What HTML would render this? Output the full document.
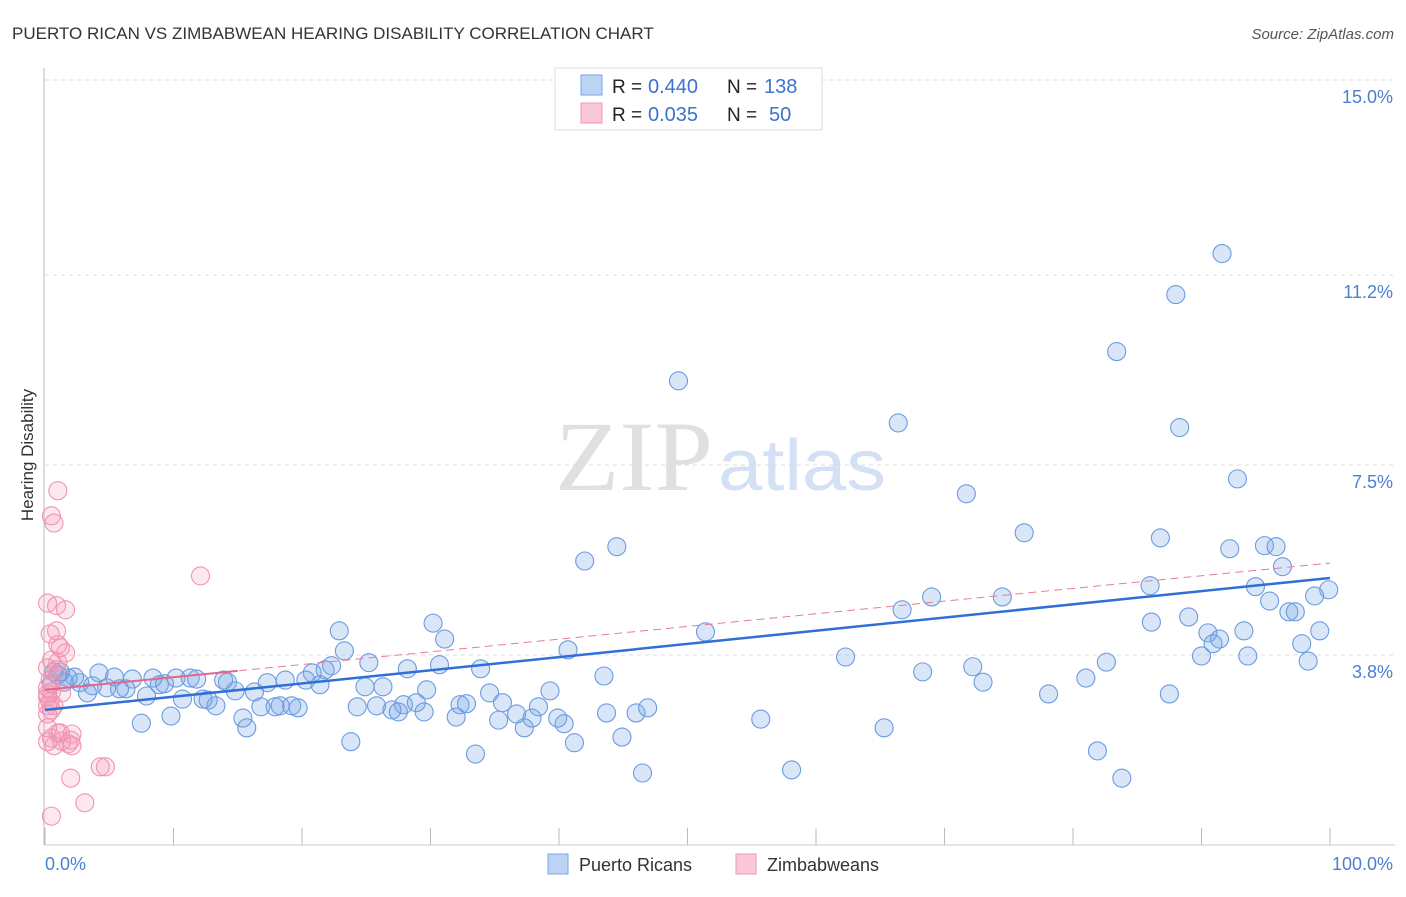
<!DOCTYPE html>
<html><head><meta charset="utf-8"><style>
body{margin:0;background:#fff;font-family:"Liberation Sans",sans-serif}
</style></head><body>
<svg width="1406" height="892" xmlns="http://www.w3.org/2000/svg">
<text x="12" y="39" font-size="17" fill="#333">PUERTO RICAN VS ZIMBABWEAN HEARING DISABILITY CORRELATION CHART</text>
<text x="1394" y="39" font-size="15" fill="#555" font-style="italic" text-anchor="end">Source: ZipAtlas.com</text>
<g>
<text x="555" y="490" font-size="100" font-family="Liberation Serif,serif" fill="#e0e0e0" textLength="158" lengthAdjust="spacingAndGlyphs">ZIP</text>
<text x="718" y="490" font-size="72" fill="#d4e0f3" textLength="168" lengthAdjust="spacingAndGlyphs">atlas</text>
</g>
<g id="grid"></g>
<line x1="44" y1="68" x2="44" y2="845" stroke="#bbb"/>
<line x1="44" y1="845" x2="1395" y2="845" stroke="#ccc"/>
<text x="33" y="455" font-size="17" fill="#333" transform="rotate(-90 33 455)" text-anchor="middle">Hearing Disability</text>
<text x="45" y="870" font-size="18" fill="#4a7fd4">0.0%</text>
<text x="1393" y="870" font-size="18" fill="#4a7fd4" text-anchor="end">100.0%</text>
<g id="pts"></g>
<g id="trends"></g>
<g>
<rect x="555" y="68" width="267" height="62" fill="#fff" stroke="#ddd"/>
<rect x="581" y="75" width="21" height="20" fill="#bcd3f5" stroke="#7aa5e6"/>
<rect x="581" y="103" width="21" height="20" fill="#fbc8d8" stroke="#ee9ab4"/>
<text x="612" y="93" font-size="19" fill="#222">R =</text>
<text x="648" y="93" font-size="20" fill="#3b73cc">0.440</text>
<text x="727" y="93" font-size="19" fill="#222">N =</text>
<text x="764" y="93" font-size="20" fill="#3b73cc">138</text>
<text x="612" y="121" font-size="19" fill="#222">R =</text>
<text x="648" y="121" font-size="20" fill="#3b73cc">0.035</text>
<text x="727" y="121" font-size="19" fill="#222">N =</text>
<text x="769" y="121" font-size="20" fill="#3b73cc">50</text>
</g>
<g>
<rect x="548" y="854" width="20" height="20" fill="#bcd3f5" stroke="#7aa5e6"/>
<text x="579" y="871" font-size="18" fill="#333">Puerto Ricans</text>
<rect x="736" y="854" width="20" height="20" fill="#fbc8d8" stroke="#ee9ab4"/>
<text x="767" y="871" font-size="18" fill="#333">Zimbabweans</text>
</g>
</svg>
<script>
const yTicks=[3.8,7.5,11.2,15.0];
const yTickLabels=["3.8%","7.5%","11.2%","15.0%"];
const xTicks=[0,10,20,30,40,50,60,70,80,90,100];
const blueX=[49.3,91.6,88.0,83.4,66.4,88.3,71.7,92.8,76.2,86.8,44.5,42.0,92.2,94.9,95.8,96.3,86.0,94.2,99.9,98.8,69.0,74.5,95.3,66.7,96.8,97.3,86.1,89.0,90.5,91.4,93.3,99.2,90.9,97.8,90.0,93.6,98.3,51.4,62.3,82.6,68.3,72.2,73.0,81.0,78.1,87.5,55.7,65.3,81.9,83.8,58.1,46.5,30.2,31.1,22.9,23.3,40.7,43.5,30.7,28.2,25.2,33.9,22.3,21.8,20.8,20.3,21.4,24.9,26.3,29.7,34.6,39.3,35.6,32.3,32.8,38.4,27.9,28.9,27.0,27.5,29.5,24.3,25.8,36.7,43.7,46.0,46.9,32.0,35.3,37.9,39.9,40.4,37.3,44.9,41.2,33.5,23.8,15.4,15.7,9.8,7.5,13.3,16.8,17.9,18.3,19.2,19.7,10.7,12.3,12.7,7.9,14.8,16.3,8.9,9.3,14.2,17.3,18.7,8.4,10.2,11.3,11.8,13.9,6.8,5.4,4.2,6.3,5.8,4.8,3.7,3.3,2.7,2.3,1.8,1.5,1.0,0.7,1.2,0.5];
const blueY=[9.14,11.62,10.82,9.71,8.32,8.23,6.94,7.23,6.18,6.08,5.91,5.63,5.87,5.93,5.91,5.52,5.15,5.13,5.07,4.95,4.93,4.93,4.85,4.68,4.64,4.64,4.44,4.54,4.23,4.11,4.27,4.27,4.02,4.02,3.78,3.78,3.68,4.25,3.76,3.66,3.47,3.57,3.27,3.35,3.04,3.04,2.55,2.38,1.93,1.40,1.56,1.50,4.42,4.11,4.27,3.88,3.90,3.39,3.61,3.53,3.65,3.53,3.59,3.51,3.45,3.31,3.22,3.18,3.18,3.12,3.06,3.10,2.87,2.83,2.85,2.79,2.83,2.87,2.73,2.69,2.69,2.79,2.81,2.65,2.67,2.67,2.77,2.59,2.53,2.57,2.57,2.46,2.38,2.20,2.09,1.87,2.11,2.57,2.38,2.61,2.47,2.81,2.79,2.79,2.81,2.81,2.77,2.94,2.94,2.92,3.00,3.10,3.08,3.22,3.24,3.27,3.26,3.31,3.35,3.35,3.35,3.33,3.31,3.33,3.37,3.45,3.14,3.14,3.16,3.20,3.06,3.26,3.37,3.35,3.27,3.41,3.47,3.47,3.24];
const pinkX=[1.0,0.5,0.7,12.1,0.2,0.9,1.6,0.9,0.4,1.0,1.2,1.6,0.5,1.0,0.2,0.9,0.4,0.2,0.5,0.2,0.4,0.2,0.5,0.2,0.7,1.0,0.5,0.2,0.7,1.3,1.8,1.2,2.0,2.1,2.1,0.2,2.0,4.3,4.7,3.1,0.5,0.2,1.3];
const pinkY=[7.0,6.51,6.37,5.34,4.81,4.76,4.68,4.27,4.21,4.00,3.94,3.84,3.70,3.66,3.55,3.51,3.31,3.16,3.08,2.98,2.89,2.81,2.73,2.65,2.81,2.28,2.18,2.11,2.03,2.12,2.07,2.28,2.14,2.26,2.03,2.38,1.40,1.62,1.62,0.92,0.66,3.04,3.06];
const blueTrend=[2.73,5.30];
const pinkTrend=[3.12,5.59];
const pinkSolidEnd=15;
const NS="http://www.w3.org/2000/svg";
const sx=v=>45+v*12.85;
const sy=v=>850-v*51.33;
function mk(tag,attrs,parent){const e=document.createElementNS(NS,tag);for(const k in attrs)e.setAttribute(k,attrs[k]);parent.appendChild(e);return e;}
const grid=document.getElementById('grid');
yTicks.forEach((t,i)=>{
 const l=mk('line',{x1:45,x2:1395,y1:sy(t),y2:sy(t),stroke:'#ddd','stroke-dasharray':'4 4'},grid);
 
 
 const tx=mk('text',{x:1393,y:sy(t)+23,'font-size':18,fill:'#4a7fd4','text-anchor':'end'},grid);
 tx.textContent=yTickLabels[i];
 
 
});
xTicks.forEach(t=>{
 const l=mk('line',{x1:sx(t),x2:sx(t),y1:828,y2:845,stroke:'#bbb'},grid);
 
 
});
const pts=document.getElementById('pts');
blueX.forEach((x,i)=>{
 const c=mk('circle',{cx:sx(x),cy:sy(blueY[i]),r:9,fill:'rgba(120,165,230,0.28)',stroke:'#6b9be0','stroke-width':1.1},pts);
 
 
});
pinkX.forEach((x,i)=>{
 const c=mk('circle',{cx:sx(x),cy:sy(pinkY[i]),r:9,fill:'rgba(245,150,180,0.22)',stroke:'#ee95b0','stroke-width':1.1},pts);
 
 
});
const tr=document.getElementById('trends');
const pAt=x=>pinkTrend[0]+(pinkTrend[1]-pinkTrend[0])*x/100;
const pd=mk('line',{x1:sx(0),y1:sy(pinkTrend[0]),x2:sx(100),y2:sy(pinkTrend[1]),stroke:'#e87a9a','stroke-width':1,'stroke-dasharray':'8 5'},tr);


const ps=mk('line',{x1:sx(0),y1:sy(pinkTrend[0]),x2:sx(pinkSolidEnd),y2:sy(pAt(pinkSolidEnd)),stroke:'#e4668c','stroke-width':2},tr);


const bl=mk('line',{x1:sx(0),y1:sy(blueTrend[0]),x2:sx(100),y2:sy(blueTrend[1]),stroke:'#2f6fd6','stroke-width':2.5},tr);


</script>
</body></html>
